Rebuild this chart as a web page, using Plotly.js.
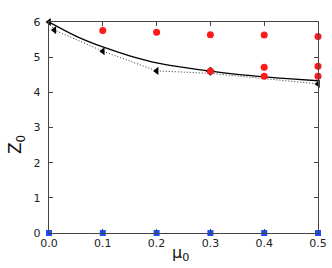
<!DOCTYPE html>
<html>
<head>
<meta charset="utf-8">
<script src="https://cdn.plot.ly/plotly-3.0.1.min.js"></script>
<style>html,body{margin:0;padding:0;background:#fff;}#chart{width:332px;height:268px;}</style>
</head>
<body>
<div id="chart"></div>
<script>
// Solid curve
var solidX = [0, 0.05, 0.1, 0.15, 0.2, 0.25, 0.3, 0.35, 0.4, 0.45, 0.5];
var solidY = [6.0, 5.6, 5.29, 5.04, 4.84, 4.71, 4.60, 4.51, 4.44, 4.38, 4.33];
// Dotted curve
var dotX = [0, 0.01, 0.1, 0.2, 0.3, 0.4, 0.5];
var dotY = [6.0, 5.77, 5.17, 4.61, 4.54, 4.38, 4.24];
// Triangle markers
var triX = [0, 0.01, 0.1, 0.2, 0.5];
var triY = [6.0, 5.77, 5.17, 4.61, 4.24];
// Black diamond at 0.3
var diaX = [0.3];
var diaY = [4.6];
// Red circles
var redX = [0.1, 0.2, 0.3, 0.4, 0.5, 0.3, 0.4, 0.4, 0.5, 0.5];
var redY = [5.76, 5.71, 5.64, 5.63, 5.59, 4.6, 4.71, 4.46, 4.74, 4.46];
// Blue squares
var blueX = [0, 0.1, 0.2, 0.3, 0.4, 0.5];
var blueY = [0, 0, 0, 0, 0, 0];
var xTicks = [0, 0.1, 0.2, 0.3, 0.4, 0.5];
var xTickText = ['0.0', '0.1', '0.2', '0.3', '0.4', '0.5'];
var yTicks = [0, 1, 2, 3, 4, 5, 6];

var traces = [
  {x: solidX, y: solidY, mode: 'lines', line: {color: '#000', width: 1.3, shape: 'spline'}, cliponaxis: false},
  {x: dotX, y: dotY, mode: 'lines', line: {color: '#333', width: 1, dash: '1px,2px'}, cliponaxis: false},
  {x: triX, y: triY, mode: 'markers', marker: {symbol: 'triangle-left', size: 7, color: '#000'}, cliponaxis: false},
  {x: diaX, y: diaY, mode: 'markers', marker: {symbol: 'diamond', size: 7, color: '#000'}, cliponaxis: false},
  {x: redX, y: redY, mode: 'markers', marker: {symbol: 'circle', size: 7, color: '#ff1a1a'}, cliponaxis: false},
  {x: blueX, y: blueY, mode: 'markers', marker: {symbol: 'square', size: 6, color: '#1a4dff'}, cliponaxis: false}
];

var axisCommon = {
  showgrid: false, zeroline: false, showline: true, linecolor: '#444', linewidth: 1.2,
  mirror: 'ticks', ticks: 'inside', ticklen: 4, tickcolor: '#444',
  tickfont: {family: 'DejaVu Sans', size: 11, color: '#222'}
};

var layout = {
  width: 332, height: 268,
  margin: {l: 49, r: 14, t: 22, b: 35},
  paper_bgcolor: '#fff', plot_bgcolor: '#fff',
  showlegend: false,
  xaxis: Object.assign({}, axisCommon, {range: [0, 0.5], tickvals: xTicks, ticktext: xTickText}),
  yaxis: Object.assign({}, axisCommon, {range: [0, 6], tickvals: yTicks, ticklabelstandoff: 5}),
  annotations: [
    {text: 'Z<sub>0</sub>', xref: 'paper', yref: 'paper', x: -0.12, y: 0.42, xanchor: 'center', yanchor: 'middle',
     showarrow: false, textangle: -90, font: {family: 'DejaVu Sans', size: 17, color: '#111'}},
    {text: '\u03bc<sub>0</sub>', xref: 'paper', yref: 'paper', x: 0.49, y: -0.095, xanchor: 'center', yanchor: 'middle',
     showarrow: false, font: {family: 'DejaVu Sans', size: 16, color: '#111'}}
  ]
};

Plotly.newPlot('chart', traces, layout, {displayModeBar: false, staticPlot: true});
</script>
</body>
</html>
